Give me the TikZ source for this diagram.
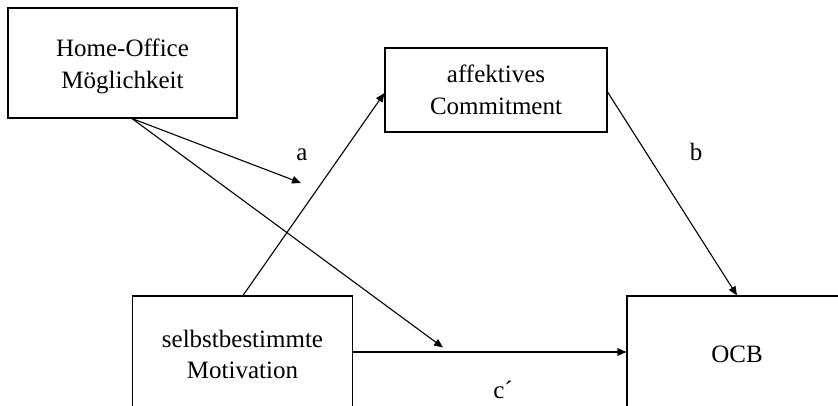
\documentclass[tikz,border=0pt]{standalone}
\usepackage{fontspec}
\setmainfont{Liberation Serif}
\usetikzlibrary{arrows.meta,calc}
\begin{document}
\begin{tikzpicture}[x=1pt,y=-1pt,
  box/.style={draw,line width=1.1pt,rectangle,inner sep=0pt,align=center,
    font=\fontsize{25}{31.5}\selectfont},
  conn/.style={line width=1.1pt,-{Triangle[length=9pt,width=7.5pt]}},
  lbl/.style={font=\fontsize{25}{31.5}\selectfont,anchor=base,inner sep=0pt}]
\useasboundingbox (0,0) rectangle (838,406);
\clip (0,0) rectangle (838,406);
\node[box,minimum width=229pt,minimum height=110pt,text height=56pt] (home) at (122.5,63) {Home-Office\\Möglichkeit};
\node[box,minimum width=222pt,minimum height=84pt] (aff) at (496,90) {affektives\\Commitment};
\node[box,minimum width=220pt,minimum height=117pt] (selbst) at (242.5,354.5) {selbstbestimmte\\Motivation};
\node[box,minimum width=220pt,minimum height=117pt] (ocb) at (737,354.5) {OCB};
\coordinate (hs) at ($(home.south)+(9.5,0)$);
\coordinate (aend) at (301,183);
\coordinate (cend) at (443,347.5);
\draw[conn] (hs) -- (aend);
\draw[conn] (hs) -- (cend);
\draw[conn] ($(selbst.north)+(0.5,0)$) -- ($(aff.west)+(0,3)$);
\draw[conn] ($(aff.east)+(0,2)$) -- (ocb.north);
\draw[conn] ($(selbst.east)+(0,-2.5)$) -- ($(ocb.west)+(0,-2.5)$);
\node[lbl] (la) at (302,161) {a};
\node[lbl] (lb) at (696,160.5) {b};
\node[lbl] (lc) at (503,398) {c´};
\end{tikzpicture}
\end{document}
